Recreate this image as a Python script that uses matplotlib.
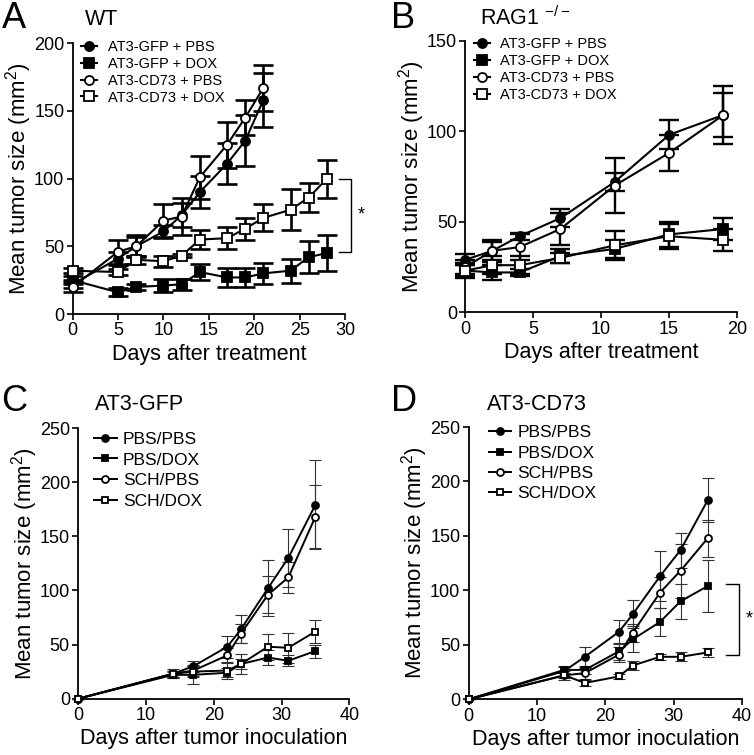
import matplotlib
matplotlib.use("Agg")
import matplotlib.pyplot as plt

# Fonte tipo Arial
plt.rcParams["font.family"] = ["Liberation Sans", "DejaVu Sans"]
plt.rcParams["mathtext.fontset"] = "custom"
plt.rcParams["mathtext.rm"] = "Liberation Sans"
plt.rcParams["mathtext.it"] = "Liberation Sans:italic"

# ---- Painel A (WT) ----
a_days_pbs = [0, 5, 7, 10, 12, 14, 17, 19, 21]
a_gfp_pbs = [22, 41, 50, 61, 73, 90, 111, 128, 158]
a_gfp_pbs_err = [3, 5, 7, 5, 9, 12, 15, 19, 20]
a_cd73_pbs = [20, 46, 50, 69, 72, 101, 125, 145, 167]
a_cd73_pbs_err = [4, 9, 8, 12, 14, 16, 17, 13, 17]
a_days_dox = [0, 5, 7, 10, 12, 14, 17, 19, 21, 24, 26, 28]
a_gfp_dox = [25, 16, 20, 21, 22, 31, 27, 27, 30, 32, 42, 45]
a_gfp_dox_err = [3, 3, 2, 5, 4, 6, 7, 7, 8, 9, 12, 13]
a_cd73_dox = [32, 31, 40, 39, 43, 55, 56, 63, 71, 77, 86, 100]
a_cd73_dox_err = [2, 2, 3, 4, 1, 7, 8, 8, 10, 15, 11, 14]

# ---- Painel B (RAG1 -/-) ----
b_days = [0, 2, 4, 7, 11, 15, 19]
b_gfp_pbs = [29, 34, 42, 52, 72, 98, 109]
b_gfp_pbs_err = [3, 6, 2, 5, 5, 8, 16]
b_gfp_dox = [23, 22, 22, 31, 35, 43, 46]
b_gfp_dox_err = [3, 4, 2, 4, 5, 7, 6]
b_cd73_pbs = [25, 34, 36, 46, 70, 88, 109]
b_cd73_pbs_err = [4, 5, 7, 9, 15, 10, 12]
b_cd73_dox = [23, 26, 26, 30, 37, 42, 40]
b_cd73_dox_err = [4, 5, 5, 3, 8, 7, 6]

# ---- Painel C (AT3-GFP) ----
cd_days = [0, 14, 17, 22, 24, 28, 31, 35]
c_pbs_pbs = [0, 23, 30, 48, 64, 102, 130, 179]
c_pbs_pbs_err = [0, 3, 5, 10, 13, 26, 27, 41]
c_pbs_dox = [0, 22, 22, 24, 32, 38, 35, 44]
c_pbs_dox_err = [0, 3, 8, 4, 9, 7, 5, 6]
c_sch_pbs = [0, 23, 26, 40, 60, 96, 112, 168]
c_sch_pbs_err = [0, 3, 5, 7, 9, 17, 14, 29]
c_sch_dox = [0, 23, 25, 26, 32, 48, 47, 62]
c_sch_dox_err = [0, 4, 5, 8, 5, 12, 14, 11]

# ---- Painel D (AT3-CD73) ----
d_pbs_pbs = [0, 26, 39, 62, 78, 113, 137, 183]
d_pbs_pbs_err = [0, 5, 9, 11, 13, 23, 16, 20]
d_pbs_dox = [0, 27, 27, 44, 55, 71, 90, 104]
d_pbs_dox_err = [0, 3, 4, 8, 12, 13, 16, 24]
d_sch_pbs = [0, 22, 24, 41, 61, 98, 118, 148]
d_sch_pbs_err = [0, 4, 5, 7, 8, 14, 25, 17]
d_sch_dox = [0, 22, 15, 21, 31, 39, 39, 43]
d_sch_dox_err = [0, 2, 3, 2, 4, 3, 4, 4]

labels_ab = ["AT3-GFP + PBS", "AT3-GFP + DOX", "AT3-CD73 + PBS", "AT3-CD73 + DOX"]
labels_cd = ["PBS/PBS", "PBS/DOX", "SCH/PBS", "SCH/DOX"]
markers = ["o", "s", "o", "s"]
faces = ["black", "black", "white", "white"]
ylabel = "Mean tumor size (mm$^\\mathregular{2}$)"


def estilo(ax, xmax, xstep, ymax, ystep, xlabel):
    for s in ["top", "right"]:
        ax.spines[s].set_visible(False)
    for s in ["left", "bottom"]:
        ax.spines[s].set_linewidth(1.3)
    ax.set_xlim(0, xmax)
    ax.set_ylim(0, ymax)
    ax.set_xticks(range(0, xmax + 1, xstep))
    ax.set_yticks(range(0, ymax + 1, ystep))
    ax.tick_params(length=4.5, width=1.2, labelsize=13, pad=1.5)
    ax.set_xlabel(xlabel, fontsize=15.5, labelpad=3)
    ax.set_ylabel(ylabel, fontsize=16, labelpad=0)


def serie(ax, x, y, err, m, fc, label, ms, lw, elw, cap, ecol):
    ax.errorbar(x, y, yerr=err, fmt="none", ecolor=ecol, elinewidth=elw,
                capsize=cap, capthick=elw, clip_on=False, zorder=2)
    ax.plot(x, y, marker=m, color="black", mfc=fc, mec="black", mew=1.3,
            ms=ms, lw=lw, label=label, clip_on=False, zorder=3)


fig = plt.figure(figsize=(7.54, 7.55), dpi=100)
axA = fig.add_axes([0.0964, 0.5841, 0.3612, 0.3586])
axB = fig.add_axes([0.6171, 0.5864, 0.3604, 0.3597])
axC = fig.add_axes([0.1038, 0.0746, 0.3594, 0.3585])
axD = fig.add_axes([0.6216, 0.0738, 0.3625, 0.3606])

# Painel A
sA = [(a_days_pbs, a_gfp_pbs, a_gfp_pbs_err), (a_days_dox, a_gfp_dox, a_gfp_dox_err),
      (a_days_pbs, a_cd73_pbs, a_cd73_pbs_err), (a_days_dox, a_cd73_dox, a_cd73_dox_err)]
for (x, y, e), m, fc, lb in zip(sA, markers, faces, labels_ab):
    serie(axA, x, y, e, m, fc, lb, 6.5, 1.5, 1.9, 7, "black")
estilo(axA, 30, 5, 200, 50, "Days after treatment")

# Painel B
sB = [(b_gfp_pbs, b_gfp_pbs_err), (b_gfp_dox, b_gfp_dox_err),
      (b_cd73_pbs, b_cd73_pbs_err), (b_cd73_dox, b_cd73_dox_err)]
for (y, e), m, fc, lb in zip(sB, markers, faces, labels_ab):
    serie(axB, b_days, y, e, m, fc, lb, 6.5, 1.5, 1.7, 7, "black")
estilo(axB, 20, 5, 150, 50, "Days after treatment")

# Painel C
sC = [(c_pbs_pbs, c_pbs_pbs_err), (c_pbs_dox, c_pbs_dox_err),
      (c_sch_pbs, c_sch_pbs_err), (c_sch_dox, c_sch_dox_err)]
for (y, e), m, fc, lb in zip(sC, markers, faces, labels_cd):
    serie(axC, cd_days, y, e, m, fc, lb, 5, 1.4, 0.8, 4, "#333333")
estilo(axC, 40, 10, 250, 50, "Days after tumor inoculation")

# Painel D
sD = [(d_pbs_pbs, d_pbs_pbs_err), (d_pbs_dox, d_pbs_dox_err),
      (d_sch_pbs, d_sch_pbs_err), (d_sch_dox, d_sch_dox_err)]
for (y, e), m, fc, lb in zip(sD, markers, faces, labels_cd):
    serie(axD, cd_days, y, e, m, fc, lb, 5, 1.4, 0.8, 4, "#333333")
estilo(axD, 40, 10, 250, 50, "Days after tumor inoculation")

# Legendas
for ax in [axA, axB]:
    ax.legend(loc="upper left", bbox_to_anchor=(0.0, 1.045), frameon=False,
              fontsize=10.5, handlelength=1.1, handletextpad=0.7,
              labelspacing=0.2, borderaxespad=0.2)
axC.legend(loc="upper left", bbox_to_anchor=(0.02, 1.025), frameon=False,
           fontsize=12.5, handlelength=1.3, handletextpad=0.35,
           labelspacing=0.32, borderaxespad=0.2)
axD.legend(loc="upper left", bbox_to_anchor=(0.035, 1.045), frameon=False,
           fontsize=12.5, handlelength=1.3, handletextpad=0.35,
           labelspacing=0.3, borderaxespad=0.2)


# Chaves de significância
def chave(ax, x0, x1, ytop, ybot, xs):
    ax.plot([x0, x1, x1, x0], [ytop, ytop, ybot, ybot], color="black",
            lw=1.0, clip_on=False)
    ax.text(xs, (ytop + ybot) / 2, "*", fontsize=13, ha="center",
            va="center", transform=ax.transData, clip_on=False)


chave(axA, 29.3, 30.7, a_cd73_dox[-1], a_gfp_dox[-1] + 1, 31.8)
chave(axD, 37.6, 39.5, d_pbs_dox[-1] + 2, d_sch_dox[-1] - 2, 41.0)

# Letras e títulos
fig.text(0.002, 0.963, "A", fontsize=26, va="baseline")
fig.text(0.113, 0.967, "WT", fontsize=15.5, va="baseline")
fig.text(0.518, 0.963, "B", fontsize=26, va="baseline")
fig.text(0.636, 0.967, "RAG1 $^\\mathregular{-/-}$", fontsize=15.5, va="baseline")
fig.text(0.002, 0.455, "C", fontsize=26, va="baseline")
fig.text(0.126, 0.457, "AT3-GFP", fontsize=15.5, va="baseline")
fig.text(0.518, 0.455, "D", fontsize=26, va="baseline")
fig.text(0.646, 0.457, "AT3-CD73", fontsize=15.5, va="baseline")

fig.savefig("out.png", dpi=100)
